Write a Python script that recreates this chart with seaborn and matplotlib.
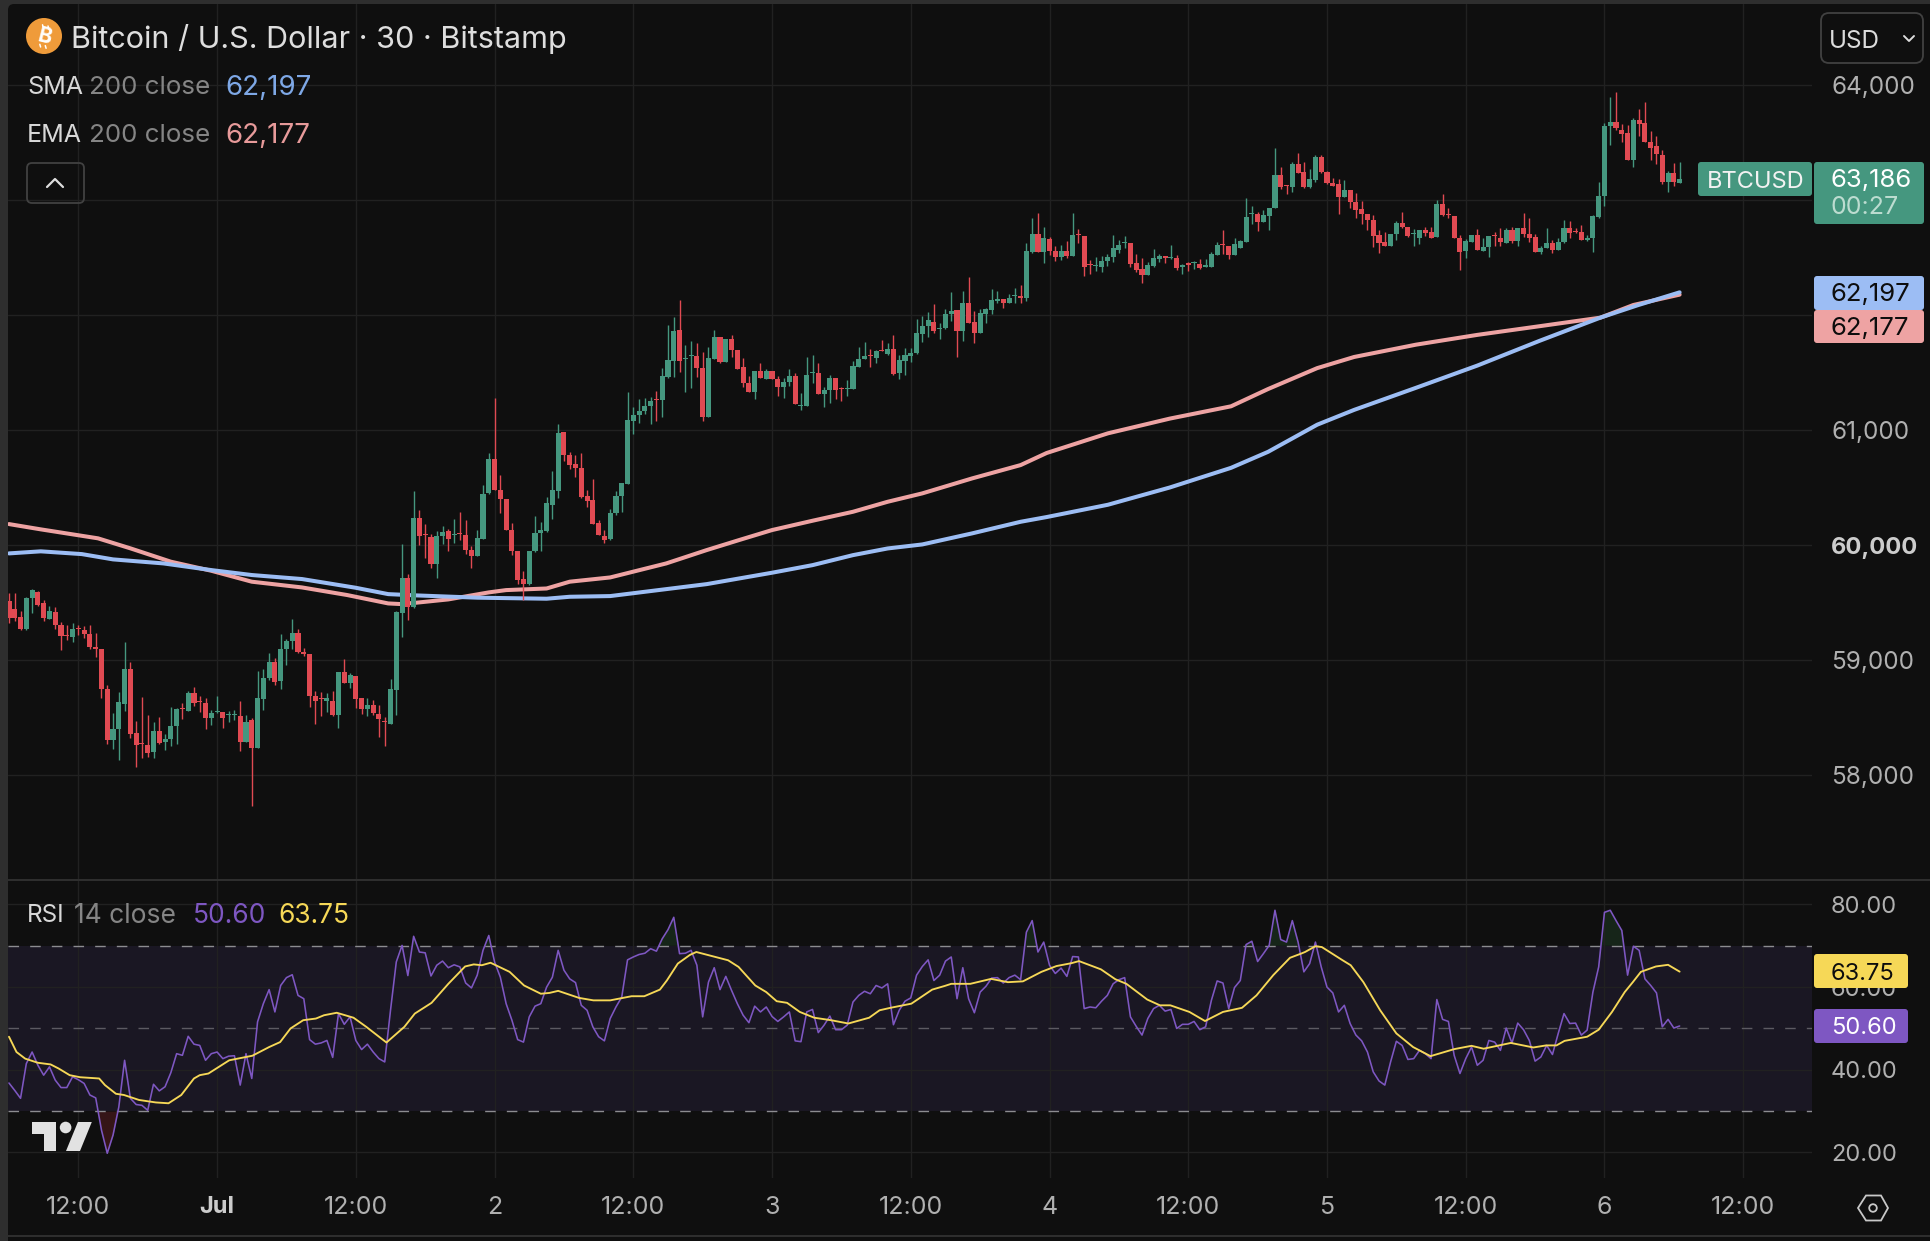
import numpy as np
import pandas as pd
import seaborn as sns
import matplotlib
matplotlib.use("Agg")
import matplotlib.pyplot as plt
from matplotlib.patches import FancyBboxPatch, Polygon, Circle, Rectangle

# 30-minute BTC/USD bars, first bar at 06:00 on 30 June
opens = [
    59515,59440,59376,59274,59536,59594,59492,59353,59420,59304,
    59220,59202,59280,59260,59225,59109,59092,58752,58303,58402,
    58616,58918,58367,58280,58260,58199,58384,58286,58309,58425,
    58581,58558,58715,58645,58628,58494,58547,58550,58520,58518,
    58512,58286,58477,58239,58660,58840,58982,58816,59092,59167,
    59237,59071,59051,58686,58674,58645,58645,58523,58895,58802,
    58860,58666,58570,58607,58529,58471,58442,58738,59405,59712,
    59462,60236,60097,60071,59839,60077,60120,60085,60106,60091,
    59955,59903,60056,60448,60747,60477,60396,60129,59949,59706,
    59665,59946,60106,60123,60344,60468,60982,60779,60703,60668,
    60425,60390,60193,60077,60048,60274,60425,60529,61080,61127,
    61167,61208,61272,61260,61463,61602,61869,61614,61640,61643,
    61535,61115,61620,61805,61593,61791,61695,61544,61411,61330,
    61512,61446,61512,61446,61376,61420,61469,61205,61211,61492,
    61492,61309,61344,61451,61365,61353,61359,61544,61617,61652,
    61628,61695,61660,61701,61492,61602,61643,61666,61834,61904,
    61939,61878,61884,62008,62043,61857,62101,61939,61846,62008,
    62043,62124,62142,62101,62165,62165,62144,62551,62704,62551,
    62661,62559,62507,62553,62516,62704,62687,62443,62423,62414,
    62472,62501,62565,62623,62623,62455,62397,62350,62426,62484,
    62510,62493,62495,62414,62449,62449,62440,62420,62420,62524,
    62617,62600,62524,62579,62637,62875,62875,62805,62863,62927,
    63217,63130,63110,63313,63240,63113,63176,63374,63246,63147,
    63139,63029,63084,62985,62918,62878,62828,62695,62631,62602,
    62701,62799,62762,62701,62672,62736,62718,62681,62962,62881,
    62863,62672,62559,62637,62692,62559,62591,62695,62672,62628,
    62741,62643,62753,62701,62678,62550,62579,62625,62567,62631,
    62753,62730,62718,62651,62666,62855,63034,63643,63675,63606,
    63579,63350,63693,63669,63501,63466,63391,63159,63234,63150,
]
closes = [
    59362,59362,59274,59536,59608,59478,59362,59428,59304,59208,
    59208,59266,59272,59225,59109,59092,58752,58303,58402,58637,
    58918,58361,58260,58268,58193,58384,58280,58309,58428,58570,
    58570,58709,58628,58634,58494,58541,58558,58500,58532,58529,
    58286,58462,58239,58671,58840,58979,58811,59092,59167,59231,
    59069,59051,58686,58645,58663,58671,58518,58892,58802,58866,
    58657,58576,58613,58535,58483,58460,58744,59420,59712,59463,
    60236,60077,60085,59833,60077,60117,60056,60097,60094,59955,
    59903,60062,60442,60747,60477,60396,60129,59949,59700,59665,
    59949,60106,60129,60361,60477,60970,60779,60695,60668,60419,
    60384,60187,60083,60042,60280,60425,60535,61086,61127,61167,
    61208,61254,61260,61469,61608,61863,61602,61625,61652,61535,
    61115,61622,61805,61593,61794,61695,61533,61405,61330,61512,
    61454,61512,61440,61376,61420,61469,61222,61217,61477,61504,
    61309,61347,61451,61347,61353,61365,61556,61617,61643,61640,
    61689,61683,61701,61486,61608,61652,61672,61840,61904,61956,
    61863,61889,62008,62037,61857,62101,61933,61846,62014,62049,
    62130,62136,62101,62147,62176,62147,62556,62704,62551,62669,
    62559,62501,62553,62513,62696,62693,62414,62432,62435,62472,
    62507,62580,62606,62635,62443,62391,62350,62435,62495,62510,
    62493,62504,62408,62435,62437,62461,62408,62432,62530,62606,
    62606,62524,62614,62646,62849,62886,62811,62869,62927,63217,
    63115,63118,63313,63232,63115,63179,63374,63240,63145,63124,
    63029,63087,62979,62915,62881,62828,62689,62625,62602,62704,
    62799,62762,62689,62712,62736,62710,62672,62965,62869,62869,
    62672,62550,62643,62695,62565,62591,62683,62683,62631,62741,
    62643,62753,62707,62672,62550,62585,62623,62567,62637,62753,
    62712,62721,62654,62672,62863,63034,63643,63675,63623,63577,
    63350,63693,63664,63501,63455,63403,63159,63234,63159,63186,
]
highs = [
    59585,59585,59428,59550,59614,59602,59521,59469,59457,59333,
    59304,59324,59304,59295,59304,59237,59092,58782,58541,58724,
    59158,58984,58471,58680,58526,58463,58506,58361,58593,58587,
    58622,58732,58767,58686,58666,58564,58686,58550,58558,58564,
    58645,58526,58492,58906,58918,59063,59019,59222,59179,59361,
    59269,59103,59051,58732,58724,58715,58732,58898,59005,58889,
    58860,58674,58666,58651,58607,58506,58831,59428,60013,59752,
    60471,60303,60187,60100,60123,60164,60141,60228,60288,60216,
    59990,60129,60520,60796,61280,60607,60396,60193,59949,59775,
    59949,60254,60202,60419,60645,61051,60982,60805,60782,60802,
    60477,60573,60216,60129,60312,60468,60541,61330,61196,61266,
    61280,61289,61338,61538,61913,61979,62130,61739,61773,61753,
    61681,61718,61869,61805,61794,61826,61695,61622,61469,61512,
    61579,61533,61512,61469,61449,61527,61492,61324,61637,61652,
    61585,61376,61480,61451,61376,61434,61602,61724,61768,61701,
    61695,61782,61753,61826,61652,61712,61710,61965,61991,62026,
    62095,61933,62052,62197,62043,62211,62327,62031,62055,62058,
    62226,62211,62142,62182,62232,62261,62629,62843,62884,62762,
    62675,62600,62606,62643,62884,62748,62687,62478,62507,62513,
    62530,62696,62652,62687,62623,62530,62495,62464,62574,62530,
    62510,62609,62522,62443,62461,62469,62487,62490,62551,62635,
    62739,62600,62667,62652,63014,62950,62898,62910,62927,63449,
    63284,63130,63327,63406,63333,63269,63391,63391,63252,63188,
    63179,63173,63084,63058,62988,62878,62869,62739,62721,62704,
    62817,62898,62762,62747,62741,62765,62765,63000,63052,62927,
    62863,62695,62660,62695,62747,62666,62689,62724,62753,62753,
    62765,62759,62883,62840,62707,62602,62753,62652,62666,62823,
    62817,62753,62782,62695,62869,63153,63672,63896,63936,63658,
    63652,63710,63791,63849,63600,63553,63434,63252,63318,63327,
]
lows = [
    59318,59341,59260,59260,59405,59469,59341,59353,59266,59086,
    59173,59158,59216,59188,59100,59022,58666,58268,58222,58129,
    58558,58318,58071,58144,58158,58152,58268,58216,58251,58274,
    58483,58555,58599,58550,58404,58439,58541,58413,58457,58477,
    58207,58286,57729,58239,58564,58825,58782,58752,58961,59100,
    59063,59034,58593,58442,58512,58552,58512,58405,58802,58761,
    58579,58529,58512,58521,58332,58251,58442,58520,59202,59347,
    59453,60004,59891,59796,59717,60013,59949,60019,60042,59926,
    59804,59903,60056,60442,60477,60274,60129,59912,59665,59520,
    59651,59941,59949,60115,60230,60413,60732,60657,60587,60405,
    60332,60187,60083,60019,60042,60259,60288,60529,60964,61057,
    61138,61051,61080,61115,61449,61457,61506,61332,61361,61457,
    61080,61115,61620,61585,61593,61637,61533,61370,61330,61266,
    61454,61440,61440,61298,61274,61382,61222,61173,61208,61405,
    61309,61202,61237,61272,61254,61298,61353,61544,61614,61544,
    61585,61683,61654,61480,61440,61480,61593,61660,61768,61811,
    61846,61794,61878,61950,61637,61776,61927,61759,61846,61933,
    62008,62101,62063,62101,62101,62101,62124,62542,62551,62455,
    62522,62472,62478,62495,62516,62629,62339,62356,62385,62374,
    62426,62464,62542,62582,62420,62377,62281,62350,62414,62464,
    62455,62487,62391,62356,62385,62403,62403,62420,62420,62524,
    62530,62487,62524,62579,62637,62791,62733,62805,62739,62927,
    63095,63049,63072,63232,63107,63107,63159,63232,63142,63124,
    62881,63029,62927,62846,62788,62741,62594,62541,62602,62602,
    62654,62753,62680,62602,62614,62689,62666,62681,62863,62846,
    62672,62388,62492,62631,62562,62559,62507,62599,62596,62628,
    62625,62602,62680,62631,62550,62533,62579,62541,62567,62625,
    62672,62710,62649,62643,62550,62840,62950,63478,63611,63507,
    63350,63290,63559,63501,63350,63316,63142,63072,63124,63150,
]

# Moving averages: bar number and value at each reading along the curve
sma_bars = [0,5.5,12.6,18,26.7,35,42,50.7,59.9,65.6,70.4,81,93,97,104,120.7,126.3,132,139,146,152,158,
            166.6,175,179.5,190.1,200.8,211.4,217.8,226.3,232.7,243.4,254,264.7,275.3,281.7,289]
sma_vals = [59927,59945,59921,59875,59840,59782,59739,59704,59629,59573,59562,59542,59533,59550,59556,59660,59709,59759,59825,59912,59970,60005,
            60101,60202,60243,60350,60500,60671,60810,61046,61175,61367,61560,61774,61977,62084,62197]
ema_bars = [0,5.5,15.4,21,28,35,42,50.7,58.5,65.6,67.6,70.4,76,83,86,93,97,104,113.7,120.7,126.3,132,139,146,152,158,
            166.6,175,179.5,190.1,200.8,211.4,217.8,226.3,232.7,243.4,254,264.7,275.3,281,289]
ema_vals = [60182,60136,60058,59971,59855,59776,59681,59631,59565,59492,59487,59498,59527,59588,59608,59622,59681,59718,59840,59956,60043,60130,60211,60289,60376,60449,
            60579,60695,60800,60971,61099,61206,61356,61538,61635,61742,61827,61902,61977,62087,62177]

# RSI(14) for every bar
rsi_vals = [
    36.8,35.0,33.1,41.5,44.3,41.1,38.7,40.7,37.5,35.7,
    35.7,38.3,37.6,36.7,33.9,33.2,25.4,19.8,24.2,31.0,
    42.3,33.1,31.6,31.4,30.2,36.5,34.9,35.9,39.3,43.9,
    43.5,48.1,46.2,45.9,42.3,43.9,44.3,42.7,43.3,43.4,
    36.3,43.9,37.9,51.6,56.0,59.4,54.0,60.4,62.3,63.0,
    58.0,57.2,47.3,46.2,46.5,47.1,43.0,53.6,51.0,52.8,
    47.1,44.9,46.2,44.3,42.7,41.9,54.4,66.1,70.1,62.8,
    72.3,68.5,68.3,62.7,65.3,66.3,64.7,65.4,64.9,61.0,
    59.8,62.9,68.9,72.5,66.1,62.4,56.0,52.0,47.3,46.7,
    52.8,55.4,56.0,60.0,62.4,68.9,64.1,62.0,61.1,55.6,
    54.4,50.4,48.0,47.0,52.4,55.2,57.6,66.6,67.3,67.9,
    68.2,69.3,68.7,71.7,73.9,76.9,68.1,68.2,68.9,65.3,
    52.8,61.2,64.7,59.4,62.6,59.2,56.0,53.2,51.4,55.4,
    54.0,55.2,52.9,51.7,52.8,54.0,47.0,46.8,54.0,54.6,
    49.0,50.8,53.0,49.7,49.7,50.8,56.4,58.0,59.0,58.4,
    60.4,59.8,60.8,50.9,54.4,56.6,57.4,62.9,65.0,66.6,
    61.6,62.9,66.3,67.3,57.2,64.7,57.2,53.8,58.8,60.2,
    62.2,62.3,61.0,62.3,62.9,61.8,73.3,76.1,68.5,70.9,
    65.3,63.3,64.6,62.6,67.4,67.3,54.8,55.2,55.0,56.6,
    58.0,60.8,61.8,62.3,52.8,50.5,48.4,52.4,54.8,55.6,
    54.2,54.6,50.0,51.0,51.0,51.7,49.7,50.4,56.8,61.5,
    61.0,54.8,59.9,61.6,70.3,71.1,66.2,68.1,70.1,78.6,
    71.5,70.9,76.1,70.9,63.7,65.7,70.9,64.9,60.0,58.6,
    54.0,55.6,51.2,48.4,47.0,44.3,39.5,37.3,36.3,41.9,
    46.9,45.9,42.5,42.7,44.7,43.9,42.7,57.0,52.2,51.7,
    43.5,39.1,42.7,45.5,41.1,42.3,47.1,46.7,44.7,50.1,
    46.5,51.3,49.7,47.1,42.1,43.1,45.9,43.7,48.8,53.6,
    51.2,51.3,48.4,49.6,58.8,64.9,78.1,78.6,76.1,73.7,
    62.9,69.9,68.9,62.0,60.4,58.6,50.4,52.2,50.1,50.6,
]
# Smoothed RSI: bar number and value at each reading along the curve
rsi_ma_bars = [
    0,1.3,2.8,5,7.2,8.6,10.5,12.3,15.6,16.6,18.5,19.9,22.5,25.4,27.6,29.8,32,33,34.5,38.1,42.1,45,46.9,48.7,50.9,
    53.1,54.5,56.7,59.6,61.8,65.3,68.4,70.2,73.1,76,78.9,80.4,81.8,83.3,86.6,89.1,92,93.5,95,98.6,101.1,104,107.7,109.9,112.6,
    113.8,115.7,117.8,118.9,121.1,124.4,126.2,129.1,131,132.8,134.6,136.8,139.3,142.2,145.2,148.8,150.6,152.5,156.1,159.7,
    161.9,163,166.3,169.9,172.8,175.4,178.6,181.2,183.8,185.1,188.9,191.4,193.3,196.9,199.1,200.9,204.2,206.9,210,213.3,
    215.8,218.7,221.6,223.5,224.2,226,227.1,230.7,232.1,234.3,237.2,240,242.9,245.9,250,253,255.1,259.8,263.7,265.9,267.7,
    269.1,273,275,277.3,279.5,280.9,282.3,284.9,287,289,
]
rsi_ma_vals = [
    48.0,44.3,42.7,41.7,41.3,40.3,38.7,38.2,37.9,36.3,34.2,33.9,32.7,32.1,31.9,33.9,37.9,38.7,39.1,42.3,43.4,45.5,46.7,50.0,52.0,
    52.4,53.2,53.8,52.6,50.4,46.6,50.4,53.6,56.2,60.8,65.0,65.5,65.3,65.9,63.7,60.4,58.4,58.6,59.1,57.4,56.8,56.8,57.8,57.8,59.4,
    61.6,65.7,67.8,68.5,67.7,66.5,64.9,60.4,58.8,56.6,56.2,54.0,52.6,52.0,51.2,52.6,54.4,55.0,56.0,59.4,
    60.3,60.8,60.8,62.0,61.2,61.4,63.7,65.1,65.8,66.3,64.3,61.9,60.8,57.0,55.6,55.6,54.0,51.8,54.0,55.0,
    58.0,62.9,67.1,68.1,68.5,69.9,69.7,66.5,65.3,61.2,54.4,48.8,45.5,43.3,45.0,45.8,45.1,46.5,45.4,45.9,45.9,
    47.0,48.0,49.7,54.0,58.8,61.2,63.7,65.0,65.4,63.75,
]

price_ticks = [58000, 59000, 60000, 61000, 62000, 63000, 64000]
price_tick_labels = ["58,000", "59,000", "60,000", "61,000", "", "", "64,000"]
rsi_ticks = [20, 40, 60, 80]
rsi_tick_labels = ["20.00", "40.00", "60.00", "80.00"]
time_ticks = [12, 36, 60, 84, 108, 132, 156, 180, 204, 228, 252, 276, 300]
time_tick_labels = ["12:00", "Jul", "12:00", "2", "12:00", "3", "12:00", "4", "12:00", "5", "12:00", "6", "12:00"]

UP = "#45977f"
DOWN = "#e04a52"
SMA_COLOR = "#9cbdf4"
EMA_COLOR = "#eea3a3"
RSI_COLOR = "#7e57c2"
RSI_MA_COLOR = "#f6d857"
PANEL = "#0f0f0f"
GRID = "#212121"
FONT = "Inter"

sns.set_theme(style="dark", rc={
    "axes.facecolor": "none",
    "figure.facecolor": "#2e2e2e",
    "axes.grid": True,
    "grid.color": GRID,
    "grid.linewidth": 1.0,
    "axes.linewidth": 0,
    "xtick.bottom": False,
    "ytick.left": False,
    "ytick.right": False,
})
plt.rcParams["font.family"] = [FONT, "DejaVu Sans"]

W, H = 1930, 1241
fig = plt.figure(figsize=(W / 100, H / 100), dpi=100)


def pane(left, top, right, bottom, **kw):
    return fig.add_axes([left / W, 1 - bottom / H, (right - left) / W, (bottom - top) / H], **kw)


# Page furniture underneath the two panes
back = pane(0, 0, W, H, zorder=0)
back.set_xlim(0, W)
back.set_ylim(H, 0)
back.axis("off")
back.add_patch(FancyBboxPatch((8, 4), W, H + 20, boxstyle="round,pad=0,rounding_size=6",
                              fc=PANEL, ec="none", mutation_aspect=1))
back.add_patch(Rectangle((8, 879), W, 1.6, fc="#2e2e2e", ec="none"))
back.add_patch(Rectangle((8, 1235), W, 1.8, fc="#2e2e2e", ec="none"))

# Price pane
ax = pane(8, 4, 1812, 879, zorder=2)
bars = pd.DataFrame({"open": opens, "high": highs, "low": lows, "close": closes})
bars["bar"] = np.arange(len(bars))
up = bars["close"] >= bars["open"]
colors = np.where(up, UP, DOWN)

sma = pd.DataFrame({"bar": sma_bars, "value": sma_vals})
ema = pd.DataFrame({"bar": ema_bars, "value": ema_vals})
sns.lineplot(data=ema, x="bar", y="value", ax=ax, color=EMA_COLOR, linewidth=2.9, zorder=2)
sns.lineplot(data=sma, x="bar", y="value", ax=ax, color=SMA_COLOR, linewidth=2.9, zorder=2.1)
ax.vlines(bars["bar"], bars["low"], bars["high"], colors=colors, linewidth=1.0, zorder=3)
ax.bar(bars["bar"], (bars["close"] - bars["open"]).abs(), bottom=bars[["open", "close"]].min(axis=1),
       width=0.88, color=colors, linewidth=0, zorder=3.1)

ax.set_xlim(-0.17, 311.9)
ax.set_ylim(57096, 64704)
ax.set_xlabel("")
ax.set_ylabel("")
ax.set_xticks(time_ticks)
ax.tick_params(axis="x", labelbottom=False, length=0)
ax.set_yticks(price_ticks)
ax.set_yticklabels(price_tick_labels)
ax.yaxis.tick_right()
ax.tick_params(axis="y", length=0, pad=13.7, labelsize=17.5, labelcolor="#b0b0b0", labelleft=False, labelright=True)
for lab, tick in zip(ax.get_yticklabels(), price_ticks):
    lab.set_family([FONT, "DejaVu Sans"])
    if tick == 60000:
        lab.set_fontweight("bold")
        lab.set_fontsize(17)
        lab.set_color("#cccccc")
ax.set_axisbelow(True)

# RSI pane
rx = pane(8, 880.5, 1812, 1178, zorder=2, sharex=ax)
rsi = pd.DataFrame({"bar": bars["bar"], "value": rsi_vals})
rsi_ma = pd.DataFrame({"bar": rsi_ma_bars, "value": rsi_ma_vals})
rx.axhspan(30, 70, color="#1a1723", linewidth=0, zorder=0.4)
rx.fill_between(rsi["bar"], rsi["value"], 70, where=rsi["value"] > 70, interpolate=True,
                color="#162519", linewidth=0, zorder=0.45)
rx.fill_between(rsi["bar"], rsi["value"], 30, where=rsi["value"] < 30, interpolate=True,
                color="#351517", linewidth=0, zorder=0.45)
for level, shade in ((70, "#8c8c90"), (50, "#5c5a62"), (30, "#8c8c90")):
    rx.axhline(level, color=shade, linewidth=1.0, linestyle=(0, (7.6, 8.0)), zorder=1)
sns.lineplot(data=rsi, x="bar", y="value", ax=rx, color=RSI_COLOR, linewidth=1.15, zorder=2)
sns.lineplot(data=rsi_ma, x="bar", y="value", ax=rx, color=RSI_MA_COLOR, linewidth=1.35, zorder=2.1)
rx.set_ylim(13.82, 85.8)
rx.set_xlabel("")
rx.set_ylabel("")
rx.set_xticks(time_ticks)
rx.set_xticklabels(time_tick_labels)
rx.tick_params(axis="x", length=0, pad=13, labelsize=18, labelcolor="#b0b0b0", labelbottom=True)
for lab, text in zip(rx.get_xticklabels(), time_tick_labels):
    if text == "Jul":
        lab.set_fontweight("bold")
        lab.set_fontsize(17)
        lab.set_color("#cccccc")
rx.set_yticks(rsi_ticks)
rx.set_yticklabels(rsi_tick_labels)
rx.yaxis.tick_right()
rx.tick_params(axis="y", length=0, pad=13.7, labelsize=17, labelcolor="#b0b0b0", labelleft=False, labelright=True)
rx.set_axisbelow(True)

# Header, legends, price badges and controls drawn on top, in pixel units
over = pane(0, 0, W, H, zorder=10)
over.set_xlim(0, W)
over.set_ylim(H, 0)
over.axis("off")


def label(x, y, s, color, size=16, ha="left", weight="normal"):
    over.text(x, y, s, color=color, fontsize=size, ha=ha, va="center_baseline", fontweight=weight)


def badge(x0, y0, x1, y1, color, r=3):
    over.add_patch(FancyBboxPatch((x0 + r, y0 + r), x1 - x0 - 2 * r, y1 - y0 - 2 * r,
                                  boxstyle=f"round,pad={r},rounding_size={r}", fc=color, ec="none"))


def outline(x0, y0, x1, y1, r):
    over.add_patch(FancyBboxPatch((x0 + r, y0 + r), x1 - x0 - 2 * r, y1 - y0 - 2 * r,
                                  boxstyle=f"round,pad={r},rounding_size={r}", fc="none",
                                  ec="#414141", lw=1.3))


# Coin icon and title
over.add_patch(Circle((44, 36), 18, fc="#ef9b3a", ec="none"))
over.text(44.5, 36.5, "B", color="#ffffff", fontsize=15, fontweight="bold", ha="center", va="center", rotation=-14)
over.plot([42.5, 43.3], [24.8, 27.5], color="#ffffff", lw=1.1)
over.plot([48, 48.8], [26, 28.7], color="#ffffff", lw=1.1)
over.plot([39.8, 40.6], [44.3, 47], color="#ffffff", lw=1.1)
over.plot([45.3, 46.1], [45.6, 48.3], color="#ffffff", lw=1.1)
label(71, 36, "Bitcoin / U.S. Dollar · 30 · Bitstamp", "#dedede", size=22)

label(27, 85, "SMA", "#d8d8d8", size=18)
label(89, 85, "200 close", "#858585", size=18.7)
label(225, 85, "62,197", "#7ea8e6", size=20)
label(27, 133, "EMA", "#d8d8d8", size=18)
label(89, 133, "200 close", "#858585", size=18.7)
label(225, 133, "62,177", "#e79a9a", size=20)

outline(27, 163, 84, 203, 5)
over.plot([47, 55, 63], [187, 179, 187], color="#dddddd", lw=1.6, solid_capstyle="round", solid_joinstyle="round")

# Currency selector
outline(1821, 13, 1923, 63, 8)
label(1829, 39, "USD", "#dcdcdc", size=17.5)
over.plot([1904, 1909, 1914], [36, 41, 36], color="#dddddd", lw=1.4, solid_capstyle="round")

# Last price and moving average badges
badge(1698, 162, 1812, 196, "#45977f")
label(1707, 179, "BTCUSD", "#f2f2f2", size=17)
badge(1814, 162, 1924, 224, "#45977f")
label(1831, 178, "63,186", "#ffffff", size=18.5)
label(1831, 205, "00:27", "#bcdcd0", size=18)
badge(1814, 276, 1924, 310, SMA_COLOR)
label(1831, 292, "62,197", "#0d0d0d", size=18.5)
badge(1814, 310, 1924, 343, EMA_COLOR)
label(1831, 326, "62,177", "#0d0d0d", size=18.5)

# RSI legend and badges
label(27, 913, "RSI", "#d8d8d8", size=17.5)
label(74, 913, "14 close", "#858585", size=19)
label(193, 913, "50.60", RSI_COLOR, size=19)
label(278, 913, "63.75", RSI_MA_COLOR, size=19)
badge(1814, 954, 1908, 988, RSI_MA_COLOR)
label(1831, 971, "63.75", "#0d0d0d", size=17)
badge(1814, 1009, 1908, 1043, RSI_COLOR)
label(1831, 1026, "50.60", "#ffffff", size=17)

# Corner logo
logo = "#e2e2e2"
over.add_patch(Polygon([(32, 1122), (56.4, 1122), (56.4, 1151), (43.8, 1151), (43.8, 1133.5), (32, 1133.5)], fc=logo, ec="none"))
over.add_patch(Circle((65.6, 1127.5), 5.8, fc=logo, ec="none"))
over.add_patch(Polygon([(77.9, 1122), (91.8, 1122), (80, 1151), (66, 1151)], fc=logo, ec="none"))

# Settings icon
over.add_patch(Polygon([(1858, 1208), (1866, 1195.5), (1881, 1195.5), (1888, 1208), (1881, 1220.5), (1866, 1220.5)],
                       fc="none", ec="#c8c8c8", lw=1.3))
over.add_patch(Circle((1873, 1208), 3.8, fc="none", ec="#c8c8c8", lw=1.3))

fig.savefig("out.png", dpi=100)
